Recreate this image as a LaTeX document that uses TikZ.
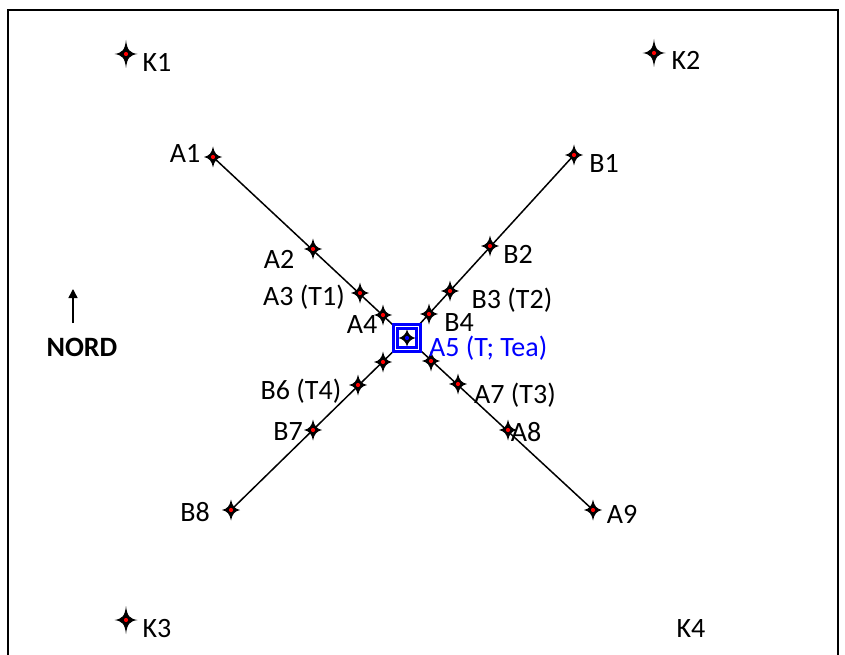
\documentclass[tikz,border=0pt]{standalone}
\usepackage{fontspec}
\setmainfont{Carlito}
\usetikzlibrary{arrows.meta}
\tikzset{
  pics/fstar/.style args={#1/#2/#3}{code={
    \fill[black] (0,-#2) .. controls (1.2,-3.8) and (3.8,-1.2) .. (#1,0)
      .. controls (3.8,1.2) and (1.2,3.8) .. (0,#2)
      .. controls (-1.2,3.8) and (-3.8,1.2) .. (-#1,0)
      .. controls (-3.8,-1.2) and (-1.2,-3.8) .. cycle;
    \fill[#3] (0,0) circle (2.1);
  }},
  lbl/.style={font=\fontsize{28}{31}\selectfont, inner sep=0pt, anchor=base},
  conn/.style={line width=1.5pt, black},
  bluebox/.style={draw=blue, double=white, line width=2.7pt, double distance=1.2pt,
    fill=white, minimum size=23pt, inner sep=0pt}
}
\begin{document}
\begin{tikzpicture}[x=1pt,y=-1pt]
\useasboundingbox (0,0) rectangle (845,655);
\clip (0,0) rectangle (845,655);
\draw[line width=2pt] (8,10) rectangle (838,672);

% positions
\coordinate (K1) at (126,54);
\coordinate (K2) at (654,53);
\coordinate (K3) at (126,620);
\coordinate (A1) at (213,157);
\coordinate (A2) at (313,249);
\coordinate (A3) at (360,293);
\coordinate (A4) at (383,315);
\coordinate (A5) at (407,338);
\coordinate (A6) at (431,361);
\coordinate (A7) at (458,384);
\coordinate (A8) at (508,430);
\coordinate (A9) at (593,510);
\coordinate (B1) at (574,155);
\coordinate (B2) at (490,246);
\coordinate (B3) at (450,291);
\coordinate (B4) at (429,314);
\coordinate (B5) at (383,362);
\coordinate (B6) at (358,385);
\coordinate (B7) at (313,430);
\coordinate (B8) at (231,510);
\coordinate (N0) at (73,323);
\coordinate (N1) at (73,289);

% connectors
\draw[conn] (A1) -- (A5) -- (A9);
\draw[conn] (B1) -- (A5) -- (B8);

% central box
\node[bluebox] (A5box) at (A5) {};

% stars
\foreach \p in {K1,K2,K3} { \pic at (\p) {fstar={11.5/14/red}}; }
\foreach \p in {A1,A2,A3,A4,A6,A7,A8,A9,B1,B2,B3,B4,B5,B6,B7,B8} { \pic at (\p) {fstar={9/10.5/red}}; }
\pic at (A5) {fstar={8.5/8.5/blue}};

% north arrow
\draw[line width=1.5pt, -{Triangle[length=9pt,width=9pt]}] (N0) -- (N1);
\node[lbl, font=\fontsize{28}{31}\selectfont\bfseries] (lN) at (82,356) {NORD};

% labels
\node[lbl] (lK1) at (157,72) {K1};
\node[lbl] (lK2) at (686,70) {K2};
\node[lbl] (lK3) at (157,637) {K3};
\node[lbl] (lK4) at (691,637) {K4};
\node[lbl] (lA1) at (185,163) {A1};
\node[lbl] (lA2) at (279,268) {A2};
\node[lbl] (lA3) at (304,305) {A3 (T1)};
\node[lbl] (lA4) at (362,333) {A4};
\node[lbl, anchor=base west, text=blue] (lA5) at (429,356) {A5 (T; Tea)};
\node[lbl] (lA7) at (515,403) {A7 (T3)};
\node[lbl] (lA8) at (526,441) {A8};
\node[lbl] (lB1) at (604,172) {B1};
\node[lbl] (lA9) at (622,523) {A9};
\node[lbl] (lB2) at (518,263) {B2};
\node[lbl] (lB3) at (512,308) {B3 (T2)};
\node[lbl] (lB4) at (459,331) {B4};
\node[lbl] (lB6) at (301,399) {B6 (T4)};
\node[lbl] (lB7) at (288,440) {B7};
\node[lbl] (lB8) at (195,521) {B8};
\end{tikzpicture}
\end{document}
